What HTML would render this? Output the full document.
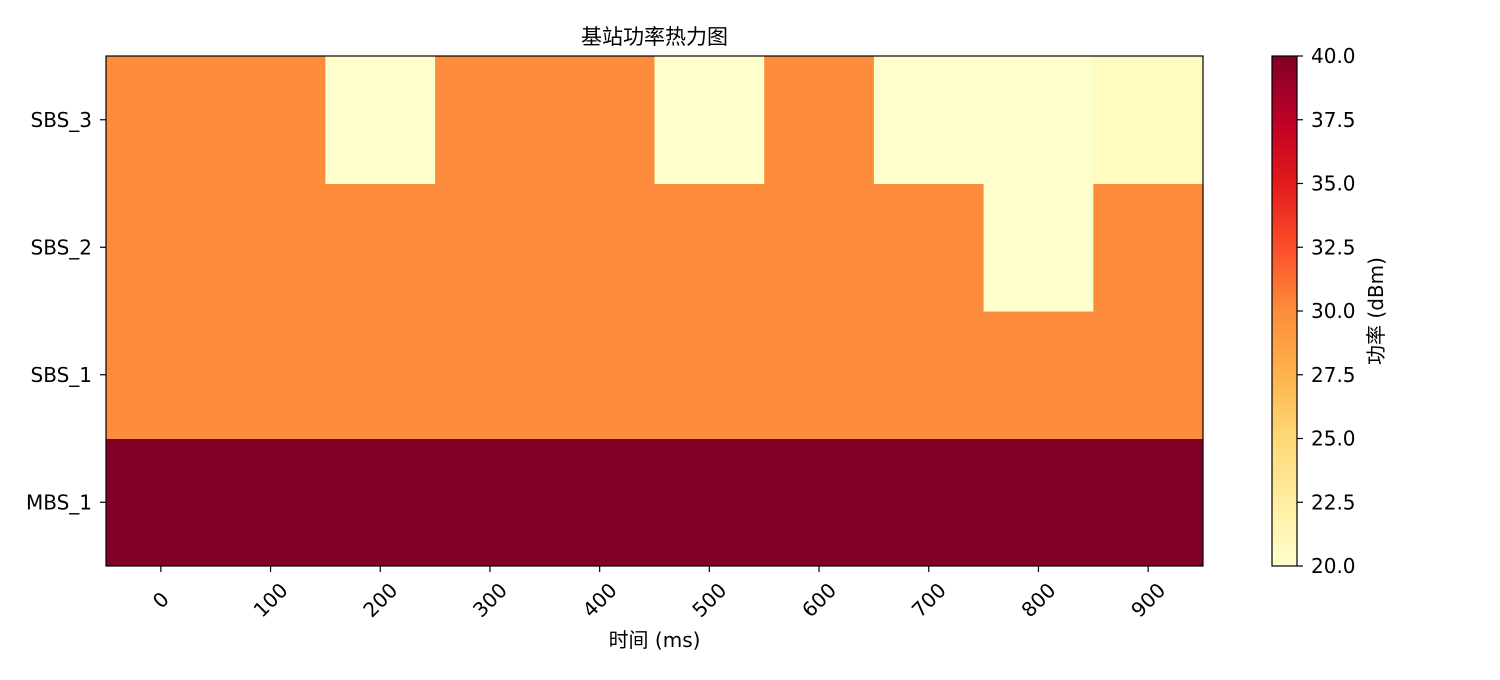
<!DOCTYPE html>
<html><head><meta charset="utf-8"><style>
body{margin:0;background:#fff;}
svg text{font-family:"DejaVu Sans","Noto Sans CJK SC",sans-serif;fill:#000;}
</style></head><body>
<svg id="c" width="1500" height="675" xmlns="http://www.w3.org/2000/svg"></svg>
<script>
const categories = ["MBS_1","SBS_1","SBS_2","SBS_3"];
const times = [0,100,200,300,400,500,600,700,800,900];
const valuesMBS1 = [40,40,40,40,40,40,40,40,40,40];
const valuesSBS1 = [30,30,30,30,30,30,30,30,30,30];
const valuesSBS2 = [30,30,30,30,30,30,30,30,20,30];
const valuesSBS3 = [30,30,20,30,30,20,30,20,20,20.6];
const cbTicks = [20,22.5,25,27.5,30,32.5,35,37.5,40];
const vmin = 20, vmax = 40;
const series = [valuesMBS1, valuesSBS1, valuesSBS2, valuesSBS3];

const NS="http://www.w3.org/2000/svg";
const svg=document.getElementById('c');
function mk(t,a){const e=document.createElementNS(NS,t);for(const k in a)e.setAttribute(k,a[k]);svg.appendChild(e);return e;}
const L=106,R=1203,T=56,B=566;
const FS=20;
const cw=(R-L)/times.length, rh=(B-T)/categories.length;
const xPos=i=>L+i*cw;
const yPos=j=>B-(j+1)*rh;
const stops=["#ffffcc","#ffeda0","#fed976","#feb24c","#fd8d3c","#fc4e2a","#e31a1c","#bd0026","#800026"];
function hex(h){return [1,3,5].map(i=>parseInt(h.substr(i,2),16));}
function cmap(v){let t=Math.max(0,Math.min(1,(v-vmin)/(vmax-vmin)))*8;let i=Math.min(7,Math.floor(t));let f=t-i;const a=hex(stops[i]),b=hex(stops[i+1]);return "rgb("+a.map((x,k)=>Math.round(x+(b[k]-x)*f)).join(",")+")";}

series.forEach((row,j)=>row.forEach((v,i)=>{
  const r=mk('rect',{x:xPos(i),y:yPos(j),width:cw+0.5,height:rh+0.5,fill:cmap(v)});
  
  
}));
const fr=mk('rect',{x:L,y:T,width:R-L,height:B-T,fill:'none',stroke:'#000','stroke-width':1.2});


times.forEach((t,i)=>{
  const x=xPos(i)+cw/2;
  mk('line',{x1:x,y1:B,x2:x,y2:B+6,stroke:'#000','stroke-width':1.2});
  const cy0=B+34;
  const tx=mk('text',{x:x,y:cy0+7,'font-size':FS,'text-anchor':'middle',transform:`rotate(-45 ${x} ${cy0})`});
  tx.textContent=t;
  
});
categories.forEach((c,j)=>{
  const y=yPos(j)+rh/2;
  mk('line',{x1:L,y1:y,x2:L-6,y2:y,stroke:'#000','stroke-width':1.2});
  const tx=mk('text',{x:L-14,y:y+7,'font-size':FS,'text-anchor':'end'});
  tx.textContent=c;
  
});
const ttl=mk('text',{x:(L+R)/2,y:44,'font-size':21,'text-anchor':'middle'});ttl.textContent="基站功率热力图";

const xl=mk('text',{x:(L+R)/2,y:647,'font-size':FS,'text-anchor':'middle'});xl.textContent="时间 (ms)";


// colorbar
const CL=1272,CR=1297;
const defs=mk('defs',{});
const g=document.createElementNS(NS,'linearGradient');g.setAttribute('id','cg');g.setAttribute('x1','0');g.setAttribute('y1','1');g.setAttribute('x2','0');g.setAttribute('y2','0');
stops.forEach((s,i)=>{const st=document.createElementNS(NS,'stop');st.setAttribute('offset',i/8);st.setAttribute('stop-color',s);g.appendChild(st);});
defs.appendChild(g);
const cb=mk('rect',{x:CL,y:T,width:CR-CL,height:B-T,fill:'url(#cg)',stroke:'#000','stroke-width':1.2});

const cy=v=>B-(v-vmin)/(vmax-vmin)*(B-T);
cbTicks.forEach(v=>{
  const y=cy(v);
  mk('line',{x1:CR,y1:y,x2:CR+6,y2:y,stroke:'#000','stroke-width':1.2});
  const tx=mk('text',{x:CR+14,y:y+7,'font-size':FS});tx.textContent=v.toFixed(1);
  
});
const cl=mk('text',{x:1383,y:311,'font-size':FS,'text-anchor':'middle',transform:'rotate(-90 1383 311)'});cl.textContent="功率 (dBm)";

</script>
</body></html>
